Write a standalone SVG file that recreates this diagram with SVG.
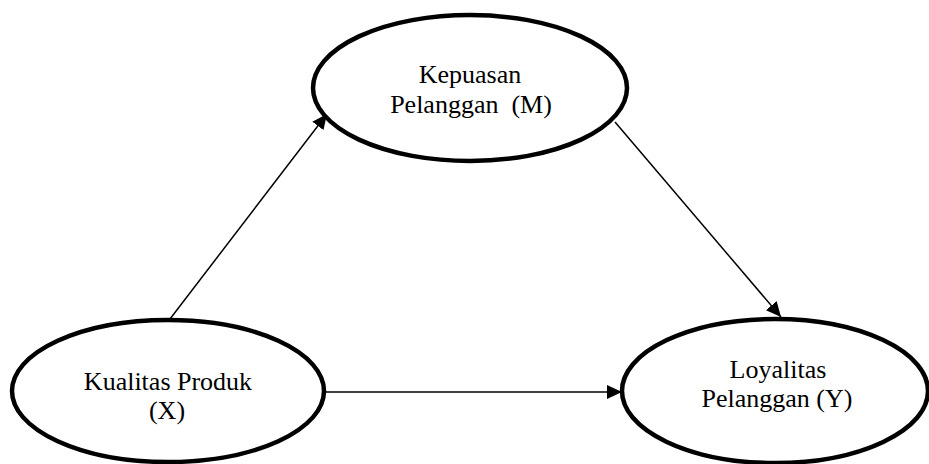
<svg xmlns="http://www.w3.org/2000/svg" width="929" height="464" viewBox="0 0 929 464">
<style>
.node ellipse{fill:#fff;stroke:#000;stroke-width:4.5}
.node text{font-family:"Liberation Serif","Times New Roman",serif;font-size:26px;fill:#000;text-anchor:middle}
.edge{stroke:#000;stroke-width:1.5;fill:none;marker-end:url(#ah)}
</style>
<defs>
<marker id="ah" markerUnits="userSpaceOnUse" markerWidth="16" markerHeight="14" refX="15" refY="7" orient="auto">
<path d="M0,0 L15,7 L0,14 Z" fill="#000"/>
</marker>
</defs>
<rect width="929" height="464" fill="#fff"/>
<g id="connectors">
<line class="edge" x1="170" y1="319" x2="327" y2="114"/>
<line class="edge" x1="615" y1="122" x2="781" y2="317"/>
<line class="edge" x1="325" y1="392" x2="622" y2="392"/>
</g>
<g id="node-m" class="node">
<ellipse cx="470" cy="88" rx="157" ry="73"/>
<text x="470" y="83">Kepuasan</text>
<text x="471" y="113" xml:space="preserve">Pelanggan  (M)</text>
</g>
<g id="node-x" class="node">
<ellipse cx="168" cy="391" rx="156" ry="71"/>
<text x="168" y="390">Kualitas Produk</text>
<text x="167" y="419">(X)</text>
</g>
<g id="node-y" class="node">
<ellipse cx="775" cy="391" rx="153" ry="72"/>
<text x="778" y="378">Loyalitas</text>
<text x="777" y="407">Pelanggan (Y)</text>
</g>
</svg>
